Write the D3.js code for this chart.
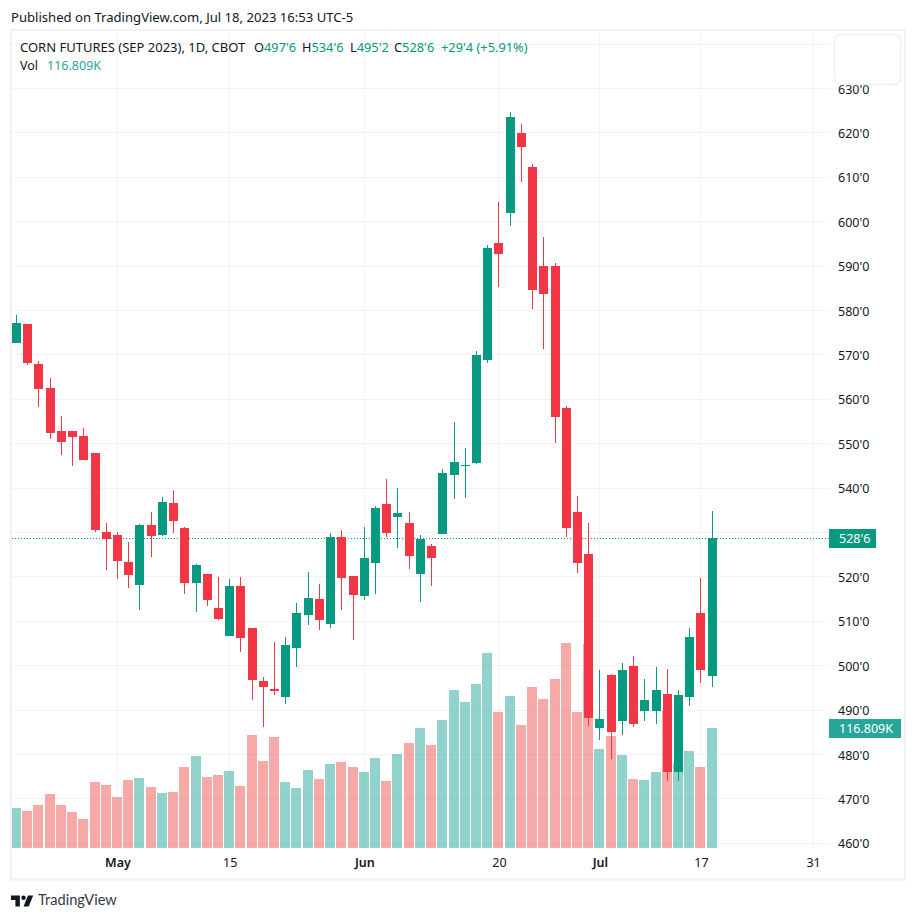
<!DOCTYPE html>
<html>
<head>
<meta charset="utf-8">
<script src="https://cdn.jsdelivr.net/npm/d3@7"></script>
<style>
    body { margin: 0; background: #fff; }
    text { font-family: "Noto Sans", sans-serif; font-size: 13px; fill: #131722; }
    .axis path, .axis line { display: none; }
    .axis text { font-family: "Noto Sans", sans-serif; font-size: 12.5px; fill: #131722; }
</style>
</head>
<body>
<div id="chart"></div>
<script>
// Daily candles (price in cents)
var opens = [572.75,577,568,562.5,552.9,552.9,551.75,547.9,530.1,529.4,523.35,518.2,531.7,529.4,536.6,531,518.6,520.65,513,506.7,518,508.5,496.55,494.75,492.95,504,511.4,515,509.4,529,520.2,515.7,523.1,536.4,533.5,532.1,520.65,527,529.75,543,544.9,545.65,568.85,595.2,602,620,612.3,590,590,558,534.6,525.2,486,497.9,487.5,499.9,489.8,489.8,493.6,476,493,511.9,497.75];
var highs = [579,577,568.6,564.8,556.25,552.9,553.5,547.9,532.1,530.1,527.9,531.9,534.6,538,539.6,531.25,522.9,520.65,520,519.5,520,508.5,497.45,505.3,506.5,514.1,521.1,518.4,529.9,530.6,520.2,531.25,536,542,540,534.6,529.4,527.4,544.3,554.9,549,570.9,594.75,604.4,624.7,622,613,596.55,590.7,558.5,538.2,532.1,499,498.1,500.6,502.2,497,499.7,499.25,494.5,508.5,519.75,534.75];
var lows = [572.75,567.75,558.25,551,547.5,545,546.3,530.1,521.5,519.5,517.5,512.5,524.5,529.2,529.9,516.15,512.1,513.4,510.25,506.7,503.1,492.3,486.2,493.4,491.4,499.7,509.2,508,508.5,512.5,505.8,514.8,516.15,529,526.5,521.8,514.3,518,529.75,537.5,537.75,545.4,568.2,585.3,599,608.9,580.3,571.3,550.2,529,520.9,486.4,483.25,479,484.4,486.2,487.5,486.9,474,474,490.9,496.1,495.25];
var closes = [577.25,568.25,562.3,552.4,550.4,551.5,546.3,530.6,528.5,523.6,520.4,531.7,529.2,536.9,532.6,518.6,522.7,514.8,510.5,518,506.25,496.8,495.2,494.3,504.65,511.9,515.25,510.3,529,519.75,515.9,524.25,535.5,530,534.4,524.7,528.5,524.25,543.4,545.9,545.1,570,594.1,592.7,623.6,616.8,584.6,583.7,556,531,523.1,488.2,488,485,499,486.9,492.3,494.5,476,493.4,506.5,499,528.75];
// Volume in thousands
var volumes = [38.9,36,41.9,52.6,41.9,35,28.2,64.2,61.3,49.6,66.2,68.1,59.4,53.5,54.5,78.8,89.6,69.1,71.1,75,60.4,110,84.7,108,64.2,58.4,75.9,67.2,81.8,83.7,78.8,74,87.6,65.2,91.5,102.2,116.8,100.3,124.6,153.8,142.1,159.6,189.8,132.4,148,119.7,156.7,145,164.5,199.5,132.4,198.6,96.4,109,90.5,67.2,66.2,74,133.4,82.7,94.4,78.8,116.809];

var priceTicks = [460,470,480,490,500,510,520,530,540,550,560,570,580,590,600,610,620,630];
var gridOnlyTicks = [640];
var dateTicks = [9,19,31,43,52,61,71];
var dateLabels = ["May","15","Jun","20","Jul","17","31"];
var boldLabels = ["May","Jun","Jul"];

var lastPrice = 528.75, lastPriceLabel = "528'6", lastVolume = 116.809, lastVolumeLabel = "116.809K";

var GREEN = "#089981", RED = "#F23645", GRID = "#f0f3fa", FRAME = "#f0f0f6", TEAL = "#26a69a";

var svg = d3.select("#chart").append("svg").attr("width", 916).attr("height", 919).style("display", "block");

var plot = {left: 12, right: 829, top: 31, bottom: 848};

var x = d3.scaleLinear().domain([0, 71]).range([16.5, 813.1]);
var y = d3.scaleLinear().domain([460, 630]).range([843.3, 88.5]);
var yVol = d3.scaleLinear().domain([0, lastVolume]).range([848, 728]);

svg.append("defs").append("clipPath").attr("id", "plot-clip").append("rect")
    .attr("x", plot.left).attr("y", plot.top).attr("width", plot.right - plot.left).attr("height", plot.bottom - plot.top);
svg.select("defs").append("clipPath").attr("id", "axis-clip").append("rect")
    .attr("x", plot.right).attr("y", plot.top).attr("width", 76).attr("height", plot.bottom - plot.top);

svg.append("text").attr("x", 11).attr("y", 22).style("font-size", "13.1px").text("Published on TradingView.com, Jul 18, 2023 16:53 UTC-5");

// gridlines
var grid = svg.append("g").attr("shape-rendering", "crispEdges").attr("stroke", GRID);
grid.selectAll("line.h").data(priceTicks.concat(gridOnlyTicks)).enter().append("line")
    .attr("class", "h")
    .attr("x1", plot.left).attr("x2", plot.right)
    .attr("y1", function(d) {return Math.floor(y(d)) + 0.5})
    .attr("y2", function(d) {return Math.floor(y(d)) + 0.5});
grid.selectAll("line.v").data(dateTicks).enter().append("line")
    .attr("class", "v")
    .attr("y1", plot.top).attr("y2", plot.bottom)
    .attr("x1", function(d) {return Math.floor(x(d)) + 0.5})
    .attr("x2", function(d) {return Math.floor(x(d)) + 0.5});

var chartArea = svg.append("g").attr("clip-path", "url(#plot-clip)").attr("shape-rendering", "crispEdges");

// volume bars sit behind the candles
chartArea.selectAll("rect.vol").data(volumes).enter().append("rect")
    .attr("class", "vol")
    .attr("x", function(d, i) {return Math.floor(x(i)) - 5})
    .attr("width", 10)
    .attr("y", function(d) {return yVol(d)})
    .attr("height", function(d) {return 848 - yVol(d)})
    .attr("fill", function(d, i) {return closes[i] >= opens[i] ? "rgba(38,166,154,0.5)" : "rgba(239,83,80,0.5)"});

// last price line
chartArea.append("line")
    .attr("x1", plot.left).attr("x2", plot.right)
    .attr("y1", Math.floor(y(lastPrice)) + 0.5).attr("y2", Math.floor(y(lastPrice)) + 0.5)
    .attr("stroke", GREEN).attr("stroke-dasharray", "1,2");

// wicks
chartArea.selectAll("rect.wick").data(opens).enter().append("rect")
    .attr("class", "wick")
    .attr("x", function(d, i) {return Math.floor(x(i))})
    .attr("width", 1)
    .attr("y", function(d, i) {return y(highs[i])})
    .attr("height", function(d, i) {return y(lows[i]) - y(highs[i])})
    .attr("fill", function(d, i) {return closes[i] >= d ? GREEN : RED});

// bodies
chartArea.selectAll("rect.body").data(opens).enter().append("rect")
    .attr("class", "body")
    .attr("x", function(d, i) {return Math.floor(x(i)) - 4})
    .attr("width", 9)
    .attr("y", function(d, i) {return y(Math.max(d, closes[i]))})
    .attr("height", function(d, i) {return Math.max(1, Math.abs(y(d) - y(closes[i])))})
    .attr("fill", function(d, i) {return closes[i] >= d ? GREEN : RED});

// price axis, the labels get cut at the bottom of the pane
var yAxis = d3.axisRight(y).tickValues(priceTicks).tickSize(0).tickPadding(0)
    .tickFormat(function(d) {return d + "'0"});
svg.append("g").attr("clip-path", "url(#axis-clip)").append("g")
    .attr("class", "axis")
    .attr("transform", "translate(838,0.5)")
    .call(yAxis);

// date axis
var xAxis = d3.axisBottom(x).tickValues(dateTicks).tickSize(0).tickPadding(0)
    .tickFormat(function(d, i) {return dateLabels[i]});
var xAxisG = svg.append("g").attr("class", "axis").attr("transform", "translate(0,858)").call(xAxis);
xAxisG.selectAll("text").style("font-weight", function(d, i) {
    return boldLabels.indexOf(dateLabels[i]) >= 0 ? 600 : 400;
});

// empty box top right
svg.append("rect").attr("x", 834.5).attr("y", 34.5).attr("width", 66).attr("height", 50).attr("rx", 6)
    .attr("fill", "#fff").attr("stroke", FRAME).attr("stroke-width", 1.5);

// last price and volume tags
svg.append("rect").attr("x", 829).attr("y", 529).attr("width", 47).attr("height", 19).attr("fill", GREEN);
svg.append("text").attr("x", 839).attr("y", 543).style("fill", "#fff").style("font-size", "12.5px").text(lastPriceLabel);
svg.append("rect").attr("x", 829).attr("y", 719).attr("width", 72).attr("height", 19).attr("fill", TEAL);
svg.append("text").attr("x", 839).attr("y", 733).style("fill", "#fff").style("font-size", "12.5px").text(lastVolumeLabel);

// frame
svg.append("rect").attr("x", 11).attr("y", 30).attr("width", 894).attr("height", 849.5)
    .attr("fill", "none").attr("stroke", FRAME).attr("stroke-width", 2);

// legend
svg.append("text").attr("x", 20).attr("y", 52).text("CORN FUTURES (SEP 2023), 1D, CBOT");
var ohlc = [["O","497'6",254],["H","534'6",302],["L","495'2",350],["C","528'6",394]];
ohlc.forEach(function(d) {
    var item = svg.append("text").attr("x", d[2]).attr("y", 52).style("font-size", "12.8px");
    item.append("tspan").text(d[0]);
    item.append("tspan").style("fill", GREEN).text(d[1]);
});
svg.append("text").attr("x", 441).attr("y", 52).style("fill", GREEN).style("font-size", "12.8px").text("+29'4 (+5.91%)");
var volLegend = svg.append("text").attr("x", 20).attr("y", 70).style("font-size", "12.5px");
volLegend.append("tspan").text("Vol");
volLegend.append("tspan").attr("dx", 9).style("fill", TEAL).text(lastVolumeLabel);

// logo
svg.append("path")
    .attr("d", "M14 6H2v6h6v9h6V6Zm12 15h-7l6-15h7l-6 15Zm-7-9a3 3 0 1 0 0-6 3 3 0 0 0 0 6Z")
    .attr("transform", "translate(9.5,891) scale(0.74)")
    .attr("fill", "#131722");
svg.append("text").attr("x", 38).attr("y", 905).style("font-family", "Lato").style("font-size", "14.6px").style("fill", "#363a45").text("TradingView");
</script>
</body>
</html>
